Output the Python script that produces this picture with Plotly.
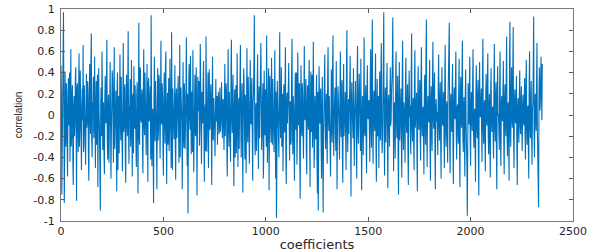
import plotly.graph_objects as go

# correlation: one list at coefficients 0, 4, 8, ...
corr_a = [
    0.47, -0.75, 0.12, 0.97, -0.83, 0.41, -0.3, 0.22, -0.58, 0.35, 0.05, -0.44, 0.62, -0.2, 0.28, -0.66, 0.18, -0.1, 0.45, -0.81,
    0.3, -0.35, 0.58, -0.12, 0.08, -0.52, 0.25, 0.66, -0.28, 0.14, -0.47, 0.39, -0.05, 0.21, -0.62, 0.48, -0.18, 0.77, -0.4, 0.1,
    -0.22, 0.55, -0.5, 0.32, 0.02, -0.68, 0.44, -0.15, -0.9, 0.26, 0.6, -0.33, 0.12, -0.56, 0.37, -0.08, 0.71, -0.42, 0.19, -0.26,
    0.5, -0.6, 0.06, 0.34, -0.45, 0.64, -0.17, 0.23, -0.72, 0.4, -0.02, -0.36, 0.57, -0.24, 0.15, -0.53, 0.68, -0.11, 0.29, -0.64,
    0.38, -0.2, 0.79, -0.46, 0.09, -0.3, 0.52, -0.58, 0.2, 0.46, -0.13, 0.03, -0.49, 0.31, -0.74, 0.87, -0.28, 0.42, -0.07, 0.24,
    -0.55, 0.62, -0.19, 0.11, -0.38, 0.48, -0.63, 0.35, -0.04, 0.27, 0.94, -0.48, 0.06, -0.83, 0.55, -0.25, 0.18, -0.7, 0.44, -0.14,
    0.33, -0.41, 0.7, -0.09, 0.16, -0.57, 0.4, -0.27, 0.6, -0.65, 0.21, 0.01, -0.34, 0.53, -0.16, 0.78, -0.52, 0.13, -0.23, 0.47,
    -0.61, 0.25, -0.06, 0.37, -0.45, 0.66, -0.21, 0.08, -0.7, 0.5, -0.31, 0.19, -0.12, 0.73, -0.48, -0.93, 0.32, -0.03, 0.56, -0.37,
    0.14, 0.61, -0.54, 0.28, -0.18, 0.45, -0.76, 0.36, 0.04, -0.29, 0.67, -0.42, 0.22, -0.08, 0.51, -0.63, 0.1, 0.74, -0.35, 0.17,
    -0.5, 0.43, -0.11, 0.29, -0.66, 0.55, -0.24, 0.08, -0.39, 0.34, 0.12, -0.28, 0.22, -0.18, 0.26, -0.1, 0.31, -0.22, 0.15, -0.33,
    0.48, -0.06, 0.2, -0.58, 0.62, -0.3, 0.05, -0.44, 0.71, -0.17, 0.38, -0.67, 0.24, 0.09, -0.36, 0.58, -0.49, 0.16, -0.02, 0.66,
    -0.4, 0.3, -0.73, 0.44, -0.13, 0.19, -0.55, 0.63, -0.26, 0.07, -0.46, 0.52, -0.09, 0.35, -0.62, 0.2, 0.94, -0.38, 0.11, -0.2,
    0.57, -0.51, 0.27, -0.04, 0.68, -0.33, 0.14, -0.6, 0.42, -0.19, 0.03, 0.75, -0.45, 0.24, -0.71, 0.37, -0.12, 0.54, -0.28, 0.09,
    -0.35, 0.61, -0.6, -0.97, 0.32, 0.16, -0.4, 0.78, -0.22, 0.45, -0.07, -0.53, 0.29, -0.16, 0.64, -0.65, 0.21, 0.02, 0.49, -0.43,
    0.13, -0.25, 0.72, -0.37, 0.06, -0.62, 0.4, 0.23, -0.47, 0.59, -0.1, 0.3, -0.79, 0.47, -0.2, 0.17, -0.41, 0.65, -0.05, 0.34,
    -0.56, 0.28, -0.14, 0.52, -0.68, 0.41, 0.01, -0.31, 0.69, -0.5, 0.18, -0.23, 0.38, -0.74, -0.9, 0.46, -0.08, 0.25, -0.6, 0.36,
    -0.92, 0.12, 0.57, -0.32, 0.2, -0.46, 0.64, -0.15, 0.05, -0.58, 0.43, -0.26, 0.75, -0.39, 0.1, -0.18, 0.51, -0.7, 0.27, 0.04,
    -0.42, 0.6, -0.21, 0.33, -0.64, 0.48, -0.09, 0.22, -0.52, 0.8, -0.35, 0.15, -0.03, 0.56, -0.77, 0.31, -0.17, 0.44, -0.48, 0.2,
    0.07, -0.6, 0.65, -0.27, 0.39, -0.12, 0.53, -0.71, 0.18, -0.38, 0.73, -0.2, 0.28, -0.55, 0.47, -0.04, 0.14, -0.44, 0.62, -0.31,
    0.9, -0.46, 0.23, -0.15, 0.58, -0.63, 0.34, 0.02, -0.5, 0.41, -0.24, 0.68, -0.36, 0.11, 0.97, -0.57, 0.26, -0.08, 0.49, -0.69,
    0.19, -0.3, 0.45, -0.05, 0.31, 0.92, -0.53, 0.12, -0.41, 0.6, -0.22, 0.37, -0.75, 0.5, -0.1, 0.25, -0.59, 0.7, -0.33, 0.06,
    -0.45, 0.54, -0.17, 0.29, -0.66, 0.42, 0.09, -0.37, 0.77, -0.25, 0.16, -0.52, 0.61, -0.02, 0.21, -0.72, 0.46, -0.14, 0.33, -0.43,
    0.64, -0.2, 0.08, -0.56, 0.38, -0.28, 0.9, -0.49, 0.18, -0.07, 0.52, -0.62, 0.27, -0.34, 0.69, -0.13, 0.4, -0.7, 0.15, 0.03,
    -0.38, 0.57, -0.24, 0.31, -0.6, 0.45, -0.1, 0.22, -0.5, 0.66, -0.3, 0.13, -0.45, 0.35, 0.87, -0.55, 0.2, -0.16, 0.48, -0.65,
    0.26, -0.04, 0.6, -0.42, 0.1, -0.27, 0.53, -0.68, 0.36, -0.12, 0.7, -0.35, 0.17, -0.58, 0.43, -0.2, -0.95, 0.3, -0.09, 0.55,
    -0.48, 0.22, -0.15, 0.62, -0.31, 0.06, -0.63, 0.47, -0.22, 0.33, -0.76, 0.5, -0.02, 0.25, -0.44, 0.72, -0.27, 0.14, -0.53, 0.39,
    -0.1, 0.58, -0.37, 0.2, -0.59, 0.44, -0.16, 0.08, -0.41, 0.67, -0.25, 0.31, -0.7, 0.46, 0.01, -0.33, 0.6, -0.48, 0.18, -0.06,
    0.51, -0.56, 0.29, -0.2, 0.74, -0.39, 0.12, -0.62, 0.88, -0.3, 0.45, -0.12, 0.83, -0.5, 0.24, -0.08, 0.37, -0.66, 0.16, -0.26,
    0.42, -0.18, 0.27, -0.34, 0.19, -0.1, 0.35, -0.42, 0.52, -0.28, 0.09, -0.6, 0.6, -0.22, 0.32, -0.47, 0.11, 0.93, -0.4, 0.2,
    -0.15, 0.68, -0.3, -0.87, 0.45, 0.1, 0.55, -0.05,
]

# and the in-between values at coefficients 2, 6, 10, ...
corr_b = [
    0.2, -0.15, 0.55, 0.1, -0.4, -0.05, 0.3, -0.25, 0.05, -0.1, 0.4, 0.15, -0.3, 0.22, -0.45, 0.08, -0.2, 0.35, -0.12, 0.25,
    -0.08, 0.18, -0.3, 0.42, -0.22, 0.1, -0.05, -0.35, 0.28, -0.18, 0.06, -0.12, 0.32, -0.4, 0.15, -0.02, 0.5, -0.25, 0.12, 0.36,
    -0.1, 0.2, 0.05, -0.28, 0.38, -0.15, 0.02, -0.48, 0.1, -0.2, 0.25, 0.12, -0.38, 0.16, -0.06, 0.3, -0.22, 0.08, -0.45, 0.14,
    0.04, -0.18, 0.42, -0.1, 0.2, -0.32, 0.06, -0.14, 0.28, -0.52, 0.18, 0.1, -0.06, 0.36, -0.3, 0.02, -0.16, 0.24, -0.4, 0.12,
    -0.05, 0.26, -0.18, 0.06, 0.34, -0.12, -0.24, 0.15, -0.36, 0.05, 0.28, -0.3, 0.2, -0.1, 0.12, -0.22, 0.45, -0.04, 0.18, -0.32,
    0.22, -0.08, 0.4, -0.26, 0.1, -0.14, 0.3, -0.06, 0.18, -0.42, 0.2, 0.02, -0.35, 0.14, -0.2, 0.32, -0.1, 0.08, -0.24, 0.38,
    -0.12, 0.16, -0.06, 0.3, -0.34, 0.12, -0.02, 0.44, -0.2, 0.06, -0.28, 0.35, -0.14, 0.22, -0.5, 0.1, 0.25, -0.16, 0.04, -0.3,
    0.18, -0.22, 0.34, -0.1, 0.08, -0.4, 0.26, -0.04, 0.15, -0.18, 0.3, -0.32, 0.12, -0.05, 0.2, -0.26, 0.48, -0.14, 0.06, 0.22,
    -0.35, 0.1, -0.04, 0.38, -0.2, 0.14, -0.28, 0.04, 0.32, -0.1, 0.2, -0.46, 0.08, 0.3, -0.16, 0.02, -0.34, 0.24, -0.08, 0.4,
    0.06, -0.14, 0.2, -0.08, 0.1, -0.2, 0.16, -0.12, 0.04, -0.06, 0.18, -0.1, 0.02, 0.12, -0.16, 0.08, -0.04, 0.14, -0.12, 0.1,
    -0.2, 0.3, -0.36, 0.12, -0.08, 0.22, -0.3, 0.42, -0.02, 0.16, -0.24, 0.06, -0.4, 0.28, -0.12, 0.18, 0.04, -0.32, 0.36, -0.1,
    0.14, -0.24, 0.08, 0.3, -0.42, 0.04, 0.2, -0.16, 0.36, -0.3, 0.1, -0.06, 0.26, -0.2, 0.12, 0.5, -0.14, 0.02, -0.34, 0.28,
    -0.1, 0.18, -0.22, 0.4, 0.06, -0.14, 0.3, -0.36, 0.12, 0.24, -0.3, 0.08, -0.18, 0.44, -0.06, 0.16, -0.26, 0.1, 0.34, -0.2,
    0.04, -0.12, 0.22, -0.5, 0.1, -0.24, 0.38, -0.02, 0.14, -0.3, 0.2, 0.06, -0.16, 0.32, -0.4, 0.12, -0.08, 0.26, -0.18, 0.1,
    -0.28, 0.36, -0.06, 0.18, -0.32, 0.1, -0.14, 0.4, -0.22, 0.04, 0.28, -0.46, 0.12, -0.08, 0.3, -0.2, 0.14, -0.02, 0.22, -0.36,
    0.12, -0.04, 0.32, -0.2, 0.08, -0.16, 0.38, -0.1, 0.2, -0.28, 0.06, 0.14, -0.42, 0.22, -0.34, 0.04, 0.16, -0.26, 0.1, -0.4,
    -0.18, 0.3, -0.1, 0.06, -0.24, 0.36, -0.04, 0.18, -0.3, 0.12, -0.08, 0.42, -0.16, 0.02, 0.26, -0.34, 0.1, -0.12, 0.2, -0.22,
    0.16, -0.08, 0.28, -0.36, 0.12, -0.2, 0.06, -0.26, 0.44, -0.1, 0.02, -0.18, 0.3, -0.42, 0.14, 0.04, -0.22, 0.18, -0.06, 0.32,
    -0.24, 0.38, -0.12, 0.1, 0.2, -0.34, 0.16, -0.06, 0.04, 0.4, -0.14, 0.08, -0.28, 0.22, -0.02, 0.12, -0.2, 0.3, -0.1, 0.46,
    -0.16, 0.06, -0.04, 0.3, -0.32, 0.1, -0.2, 0.18, 0.08, -0.12, 0.36, -0.08, -0.24, 0.52, -0.18, 0.04, -0.26, 0.2, -0.3, 0.12,
    -0.06, 0.14, -0.1, 0.22, 0.48, -0.2, 0.02, -0.16, 0.32, -0.04, 0.1, -0.38, 0.16, -0.24, 0.06, -0.3, 0.34, -0.08, 0.12, -0.18,
    0.26, -0.06, 0.1, -0.34, 0.18, -0.02, -0.2, 0.4, -0.1, 0.04, -0.26, 0.3, -0.12, 0.08, -0.36, 0.2, -0.04, 0.14, -0.22, 0.36,
    -0.08, 0.02, -0.24, 0.16, -0.1, 0.46, -0.18, 0.06, -0.02, 0.24, -0.3, 0.12, -0.14, 0.34, -0.04, 0.2, -0.38, 0.08, -0.06, -0.16,
    0.28, -0.1, 0.14, -0.28, 0.2, -0.04, 0.1, -0.22, 0.34, -0.12, 0.06, -0.2, 0.16, 0.44, -0.26, 0.08, -0.06, 0.24, -0.32, 0.1,
    0.02, 0.3, -0.18, 0.04, -0.12, 0.26, -0.34, 0.14, -0.04, 0.36, -0.16, 0.08, -0.28, 0.2, -0.08, -0.48, 0.12, -0.02, 0.28, -0.22,
    0.1, -0.06, 0.32, -0.14, 0.02, -0.3, 0.22, -0.08, 0.16, -0.38, 0.24, -0.01, 0.1, -0.2, 0.36, -0.12, 0.06, -0.26, 0.18, -0.04,
    0.28, -0.18, 0.08, -0.28, 0.2, -0.06, 0.04, -0.2, 0.34, -0.1, 0.14, -0.34, 0.22, 0.0, -0.14, 0.3, -0.22, 0.08, -0.02, 0.24,
    -0.26, 0.14, -0.08, 0.38, -0.18, 0.06, -0.3, 0.44, -0.14, 0.22, -0.04, 0.42, -0.24, 0.1, -0.02, 0.18, -0.32, 0.06, -0.1, 0.2,
    -0.08, 0.12, -0.16, 0.08, -0.04, 0.16, -0.2, 0.26, -0.12, 0.04, -0.3, 0.3, -0.1, 0.14, -0.22, 0.04, 0.48, -0.18, 0.08, -0.06,
    0.32, -0.14, -0.44, 0.22, 0.04, 0.3, 0.2, 0.48,
]

# merge both lists in coefficient order
coefficients = []
correlation = []
for i, (a, b) in enumerate(zip(corr_a, corr_b)):
    coefficients += [4 * i, 4 * i + 2]
    correlation += [a, b]

x_ticks = [0, 500, 1000, 1500, 2000, 2500]
y_ticks = [-1, -0.8, -0.6, -0.4, -0.2, 0, 0.2, 0.4, 0.6, 0.8, 1]
y_labels = ['-1', '-0.8', '-0.6', '-0.4', '-0.2', '0', '0.2', '0.4', '0.6', '0.8', '1']

fig = go.Figure()
fig.add_trace(go.Scatter(
    x=coefficients, y=correlation, mode='lines',
    line=dict(color='#0072BD', width=1.1),
    showlegend=False,
))

axis_style = dict(
    showgrid=False, zeroline=False, automargin=False,
    showline=True, linecolor='#7a7a7a', linewidth=1, mirror='ticks',
    ticks='inside', ticklen=4, tickcolor='#5a5a5a',
    tickfont=dict(family='DejaVu Sans', size=11, color='#262626'),
)

fig.update_xaxes(
    range=[0, 2500], tickvals=x_ticks,
    title=dict(text='coefficients', font=dict(family='DejaVu Sans', size=13, color='#262626'), standoff=0),
    **axis_style,
)
fig.update_yaxes(
    range=[-1, 1], tickvals=y_ticks, ticktext=y_labels, ticklabelstandoff=3,
    title=dict(text='correlation', font=dict(family='Liberation Sans', size=10, color='#262626'), standoff=8),
    **axis_style,
)

fig.update_layout(
    width=594, height=252,
    margin=dict(l=61, r=21, t=9, b=31),
    paper_bgcolor='white', plot_bgcolor='white',
)

# the page body has a default 8px margin; drop it so the chart sits at the window corner
fig.write_html("out.html", config={'displayModeBar': False},
               post_script="document.body.style.margin='0';")
